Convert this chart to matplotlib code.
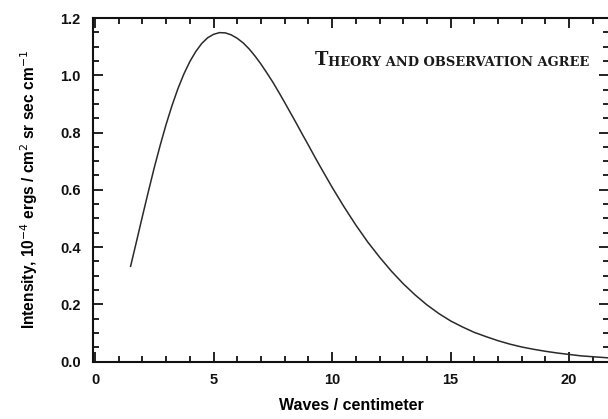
import matplotlib.pyplot as plt
from matplotlib.ticker import MultipleLocator

# curve (waves/cm, intensity in 1e-4 ergs/cm2 sr sec cm-1)
waves = [1.5, 1.75, 2.0, 2.25, 2.5, 2.75, 3.0, 3.25, 3.5, 3.75, 4.0, 4.25,
         4.5, 4.75, 5.0, 5.25, 5.5, 5.75, 6.0, 6.25, 6.5, 6.75, 7.0, 7.25,
         7.5, 7.75, 8.0, 8.25, 8.5, 8.75, 9.0, 9.25, 9.5, 9.75, 10.0, 10.5,
         11.0, 11.5, 12.0, 12.5, 13.0, 13.5, 14.0, 14.5, 15.0, 15.5, 16.0,
         16.5, 17.0, 17.5, 18.0, 18.5, 19.0, 19.5, 20.0, 20.5, 21.0, 21.5, 22.0]
intensity = [0.333, 0.420, 0.508, 0.594, 0.678, 0.756, 0.829, 0.895, 0.954,
             1.005, 1.048, 1.083, 1.111, 1.131, 1.143, 1.149, 1.148, 1.141,
             1.129, 1.113, 1.092, 1.067, 1.039, 1.008, 0.976, 0.941, 0.905,
             0.868, 0.831, 0.793, 0.756, 0.718, 0.681, 0.645, 0.609, 0.541,
             0.477, 0.418, 0.365, 0.316, 0.272, 0.233, 0.198, 0.168, 0.142,
             0.121, 0.102, 0.087, 0.073, 0.061, 0.051, 0.043, 0.036, 0.030,
             0.025, 0.020, 0.017, 0.014, 0.011]

sans = ['Liberation Sans', 'DejaVu Sans']
serif = ['DejaVu Serif', 'Liberation Serif']

fig = plt.figure(figsize=(6.08, 4.19), dpi=100)
ax = fig.add_axes([0.153, 0.137, 0.849, 0.820])

ax.plot(waves, intensity, color='#2a2a2a', lw=1.1, solid_joinstyle='round')

ax.set_xlim(-0.085, 21.69)
ax.set_ylim(0, 1.2)
ax.xaxis.set_major_locator(MultipleLocator(5))
ax.xaxis.set_minor_locator(MultipleLocator(1))
ax.yaxis.set_major_locator(MultipleLocator(0.2))
ax.yaxis.set_minor_locator(MultipleLocator(0.05))
ax.yaxis.set_major_formatter(lambda v, p: f'{v:.1f}')

ax.tick_params(which='both', direction='in', top=True, right=True,
               width=1.3, colors='#111111')
ax.tick_params(which='major', length=7, labelsize=10.5)
ax.tick_params(axis='x', which='major', pad=8)
ax.tick_params(axis='y', which='major', pad=9)
ax.tick_params(which='minor', length=4.5)
for lab in ax.get_xticklabels() + ax.get_yticklabels():
    lab.set_fontweight('bold')
    lab.set_family(sans)
for s in ax.spines.values():
    s.set_linewidth(1.5)
    s.set_color('#111111')

ax.set_xlabel('Waves / centimeter', fontsize=11.5, fontweight='bold',
              family=sans, labelpad=8)
ax.set_ylabel(r'Intensity, 10$^{-4}$ ergs / cm$^{2}$ sr sec cm$^{-1}$',
              fontsize=11.2, fontweight='bold', family=sans, labelpad=14)

# small-caps caption
t = ax.text(9.28, 1.035, 'T', fontsize=13, fontweight='bold', family=serif,
            va='baseline', color='#1a1a1a')
ax.annotate('HEORY AND OBSERVATION AGREE', xy=(1, 0), xycoords=t,
            va='bottom', ha='left', fontsize=9.4, fontweight='bold',
            family=serif, color='#1a1a1a')

fig.savefig('out.png', dpi=100)
